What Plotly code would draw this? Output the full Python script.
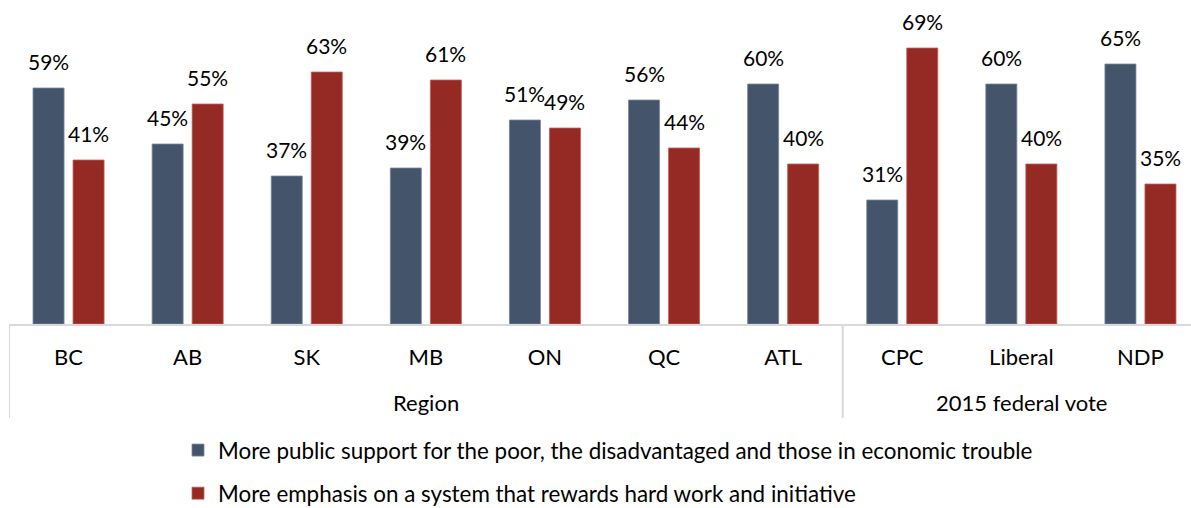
import plotly.graph_objects as go

categories = ["BC", "AB", "SK", "MB", "ON", "QC", "ATL", "CPC", "Liberal", "NDP"]
groups = ["Region"] * 7 + ["2015 federal vote"] * 3
public_support = [59, 45, 37, 39, 51, 56, 60, 31, 60, 65]
hard_work = [41, 55, 63, 61, 49, 44, 40, 69, 40, 35]
series_names = [
    "More public support for the poor, the disadvantaged and those in economic trouble",
    "More emphasis on a system that rewards hard work and initiative",
]

BLUE = "#44546a"
RED = "#952923"
FONT = "Lato"
W, H = 1191, 508
ML, MT, MB = 9, 4, 184
PLOT_H = H - MT - MB
BARGAP = 0.328
BARGROUPGAP = 0.225


def py(px):
    """pixel row -> paper y coordinate"""
    return -(px - (H - MB)) / PLOT_H


x_idx = list(range(len(categories)))

fig = go.Figure()
fig.add_trace(go.Bar(x=x_idx, y=public_support, name=series_names[0],
                     marker=dict(color=BLUE, line=dict(color="#7a889c", width=0.8)),
                     legendgroup="a"))
fig.add_trace(go.Bar(x=x_idx, y=hard_work, name=series_names[1],
                     marker=dict(color=RED, line=dict(color="#c0605a", width=0.8)),
                     legendgroup="b"))

off = (1 - BARGAP) / 4
annotations = []
for i, (a, b) in enumerate(zip(public_support, hard_work)):
    for xv, v in ((i - off, a), (i + off, b)):
        annotations.append(dict(x=xv, y=v, xref="x", yref="y", text=f"{v}%",
                                showarrow=False, yanchor="bottom", yshift=12,
                                font=dict(family=FONT, size=21, color="#000")))

# group labels
uniq = []
for g in groups:
    if g not in uniq:
        uniq.append(g)
for g in uniq:
    idx = [i for i, gg in enumerate(groups) if gg == g]
    annotations.append(dict(x=(idx[0] + idx[-1]) / 2, y=py(402),
                            xref="x", yref="paper", text=g, showarrow=False,
                            yanchor="middle", font=dict(family=FONT, size=22, color="#000")))

# group dividers
shapes = []
bounds = [-0.5] + [i + 0.5 for i in range(len(groups) - 1) if groups[i] != groups[i + 1]]
for bx in bounds:
    shapes.append(dict(type="line", xref="x", yref="paper", x0=bx, x1=bx,
                       y0=0, y1=py(418),
                       line=dict(color="#d9d9d9", width=2)))

fig.update_layout(
    width=W, height=H,
    margin=dict(l=ML, r=0, t=MT, b=MB, pad=0, autoexpand=False),
    paper_bgcolor="white", plot_bgcolor="white",
    barmode="group", bargap=BARGAP, bargroupgap=BARGROUPGAP,
    xaxis=dict(range=[-0.5, -0.5 + (W - ML) / 119.1], tickmode="array",
               tickvals=x_idx, ticktext=categories,
               tickfont=dict(family=FONT, size=22, color="#000"),
               ticks="outside", ticklen=13, tickcolor="rgba(0,0,0,0)",
               showline=True, linecolor="#d9d9d9", linewidth=2,
               showgrid=False, zeroline=False, fixedrange=True),
    yaxis=dict(range=[0, PLOT_H / 4], visible=False, showgrid=False, zeroline=False,
               fixedrange=True),
    legend=dict(orientation="v", x=(178 - ML) / (W - ML), xanchor="left",
                y=py(429), yanchor="top",
                font=dict(family=FONT, size=22.4, color="#000"),
                traceorder="grouped", tracegroupgap=11, bgcolor="rgba(0,0,0,0)"),
    annotations=annotations,
    shapes=shapes,
    showlegend=True,
)

fig.write_html("out.html", config={"displayModeBar": False},
               post_script="document.body.style.margin='0';document.body.style.overflow='hidden';")
